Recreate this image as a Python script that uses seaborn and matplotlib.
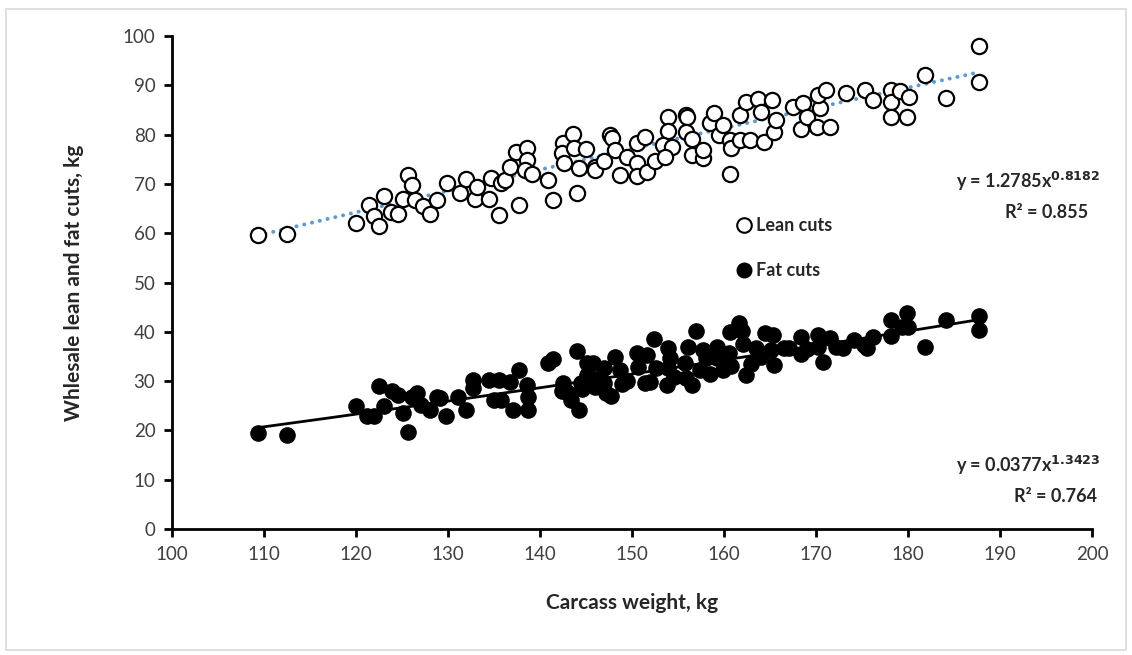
import numpy as np
import pandas as pd
import matplotlib
matplotlib.use("Agg")
import matplotlib.pyplot as plt
from matplotlib.lines import Line2D
from matplotlib.patches import Rectangle
import seaborn as sns

# Carcass weight (kg) and wholesale lean cuts (kg)
lean_x = [109.3, 112.5, 120.0, 121.4, 122.0, 122.5, 123.0, 123.8, 124.6, 125.1,
          125.6, 126.1, 126.4, 127.3, 128.0, 128.8, 129.9, 131.3, 132.0, 132.9,
          133.1, 134.4, 134.7, 135.5, 135.8, 136.2, 136.7, 137.4, 137.7, 138.6,
          138.6, 138.4, 139.1, 140.9, 141.4, 142.5, 142.4, 142.6, 143.6, 143.7,
          144.0, 144.2, 145.0, 146.0, 146.0, 146.9, 147.6, 147.8, 148.2, 148.7,
          149.4, 150.5, 150.5, 150.5, 151.4, 151.6, 152.5, 153.9, 153.9, 153.4,
          154.3, 153.6, 155.9, 156.0, 155.9, 156.5, 156.5, 157.7, 157.7, 158.5,
          158.9, 159.4, 159.9, 160.7, 160.8, 160.7, 161.7, 161.7, 162.4, 162.8,
          163.7, 164.0, 164.3, 165.2, 165.4, 165.7, 167.5, 168.4, 168.6, 169.0,
          170.1, 170.4, 170.2, 171.1, 171.5, 173.3, 175.3, 176.2, 178.2, 178.2,
          178.1, 179.1, 179.9, 180.1, 181.8, 184.1, 187.7, 187.7]
lean_y = [59.6, 59.8, 62.0, 65.7, 63.4, 61.5, 67.5, 64.4, 63.9, 66.9,
          71.8, 69.8, 66.7, 65.5, 63.9, 66.7, 70.1, 68.1, 70.9, 66.9,
          69.4, 67.0, 71.1, 63.7, 70.1, 70.8, 73.5, 76.4, 65.7, 77.2,
          74.8, 72.8, 72.1, 70.8, 66.7, 78.2, 76.2, 74.2, 80.1, 77.2,
          68.1, 73.2, 77.0, 73.5, 72.8, 74.6, 79.9, 79.3, 76.9, 71.8,
          75.5, 78.2, 74.2, 71.6, 79.6, 72.5, 74.6, 83.6, 80.8, 77.9,
          77.5, 75.5, 84.0, 83.5, 80.6, 79.2, 75.9, 75.2, 76.9, 82.3,
          84.3, 79.9, 81.9, 78.9, 77.2, 72.1, 84.0, 78.9, 86.7, 79.0,
          87.3, 84.5, 78.6, 87.0, 80.6, 83.0, 85.7, 81.1, 86.4, 83.6,
          81.6, 85.3, 88.0, 89.0, 81.6, 88.4, 89.0, 87.0, 89.0, 86.7,
          83.6, 88.8, 83.5, 87.7, 92.1, 87.5, 98.0, 90.6]

# Carcass weight (kg) and wholesale fat cuts (kg)
fat_x = [109.3, 112.5, 120.0, 121.2, 122.0, 122.5, 123.0, 123.9, 124.6, 125.1,
         125.6, 126.1, 126.6, 127.1, 128.0, 128.8, 129.8, 129.1, 131.1, 132.0,
         132.7, 132.7, 134.4, 135.0, 135.5, 135.8, 136.7, 137.1, 137.7, 138.6,
         138.7, 138.7, 140.9, 141.4, 142.5, 142.4, 142.9, 143.4, 144.0, 144.2,
         144.5, 144.6, 145.1, 145.1, 145.8, 146.0, 146.1, 146.9, 146.9, 147.2,
         147.7, 148.2, 148.7, 148.9, 149.4, 150.5, 150.7, 151.4, 151.6, 152.4,
         152.6, 152.0, 153.9, 154.1, 153.9, 153.8, 154.6, 156.1, 155.8, 155.9,
         156.5, 157.0, 157.7, 158.0, 157.4, 158.5, 159.2, 159.2, 159.9, 160.5,
         160.7, 160.8, 161.6, 161.9, 162.1, 162.4, 162.9, 163.5, 164.0, 164.5,
         165.3, 165.4, 165.1, 166.5, 167.1, 168.4, 168.4, 169.0, 170.2, 170.2,
         170.8, 171.5, 172.2, 172.9, 174.1, 175.2, 175.5, 176.2, 178.1, 178.2,
         179.3, 179.9, 180.0, 181.8, 184.1, 187.7, 187.7]
fat_y = [19.5, 19.1, 24.9, 22.9, 22.9, 29.1, 24.9, 27.9, 27.2, 23.5,
         19.6, 26.7, 27.5, 25.2, 24.1, 26.8, 22.9, 26.5, 26.8, 24.1,
         30.2, 28.5, 30.2, 26.2, 30.2, 26.2, 29.9, 24.1, 32.3, 29.2,
         26.8, 24.1, 33.7, 34.4, 29.6, 27.9, 27.7, 26.2, 36.2, 24.1,
         29.6, 28.4, 33.6, 31.2, 33.6, 28.9, 30.4, 32.6, 29.6, 27.5,
         27.0, 34.9, 32.3, 29.5, 30.1, 35.6, 32.9, 29.6, 35.3, 38.5,
         32.6, 29.9, 36.7, 34.6, 32.6, 29.2, 30.9, 37.0, 33.6, 30.6,
         29.2, 40.2, 36.3, 34.6, 32.2, 31.5, 37.0, 34.6, 32.2, 35.6,
         40.0, 33.0, 41.7, 40.2, 37.6, 31.2, 33.4, 36.7, 34.9, 39.7,
         39.4, 33.3, 36.3, 36.8, 36.8, 39.0, 35.5, 36.5, 39.4, 37.0,
         33.9, 38.7, 37.0, 36.8, 38.3, 37.3, 36.7, 38.9, 42.4, 39.1,
         41.0, 43.9, 41.0, 37.0, 42.4, 43.2, 40.4]

# Power trend coefficients, y = a * x^b
lean_a, lean_b, lean_r2 = 1.2785, 0.8182, 0.855
fat_a, fat_b, fat_r2 = 0.0377, 1.3423, 0.764

x_ticks = list(range(100, 201, 10))
y_ticks = list(range(0, 101, 10))

sns.set_theme(style="white")
plt.rcParams["font.family"] = ["Lato", "DejaVu Sans"]

fig = plt.figure(figsize=(11.32, 6.55), dpi=100)
fig.patches.append(Rectangle((0.005, 0.007), 0.99, 0.98, transform=fig.transFigure,
                             fill=False, edgecolor="#d9d9d9", linewidth=1.2))
ax = fig.add_axes([0.152, 0.1924, 0.8127, 0.7526])

lean = pd.DataFrame({"w": lean_x, "v": lean_y})
fat = pd.DataFrame({"w": fat_x, "v": fat_y})

# Trend lines from the fitted power equations
xl = np.linspace(min(lean_x), max(lean_x), 200)
xf = np.linspace(min(fat_x), max(fat_x), 200)
sns.lineplot(x=xl, y=lean_a * xl ** lean_b, ax=ax, color="#5B9BD5",
             linestyle=(0, (0.05, 2.0)), linewidth=2.8, dash_capstyle="round",
             solid_capstyle="round", zorder=2)
sns.lineplot(x=xf, y=fat_a * xf ** fat_b, ax=ax, color="black",
             linewidth=2.0, zorder=2)

sns.scatterplot(data=lean, x="w", y="v", ax=ax, s=120, facecolor="white",
                edgecolor="black", linewidth=1.6, zorder=3)
sns.scatterplot(data=fat, x="w", y="v", ax=ax, s=120, color="black",
                edgecolor="black", linewidth=1.0, zorder=3)

ax.set_xlim(100, 200)
ax.set_ylim(0, 100)
ax.set_xticks(x_ticks)
ax.set_yticks(y_ticks)
ax.tick_params(axis="both", direction="out", length=6, width=2, color="black",
               labelsize=13.5, labelcolor="#404040", pad=6, bottom=True, left=True)
for side in ("top", "right"):
    ax.spines[side].set_visible(False)
for side in ("left", "bottom"):
    ax.spines[side].set_color("black")
    ax.spines[side].set_linewidth(2)
ax.grid(False)

ax.set_xlabel("Carcass weight, kg", fontsize=15, fontweight="bold", color="#262626", labelpad=22)
ax.set_ylabel("Whlesale lean and fat cuts, kg", fontsize=15, fontweight="bold", color="#262626", labelpad=28)

handles = [Line2D([], [], marker="o", linestyle="none", markersize=10.5,
                  markerfacecolor="white", markeredgecolor="black", markeredgewidth=1.5),
           Line2D([], [], marker="o", linestyle="none", markersize=10.5,
                  markerfacecolor="black", markeredgecolor="black")]
leg = ax.legend(handles, ["Lean cuts", "Fat cuts"], loc="upper left",
                bbox_to_anchor=(0.592, 0.665), frameon=False, handletextpad=0.1,
                handlelength=1.2, labelspacing=1.55, prop={"weight": "bold", "size": 13})
for t in leg.get_texts():
    t.set_color("#262626")

eq_style = dict(fontsize=13, fontweight="bold", color="#262626", ha="right", va="center")
ax.text(1.009, 0.704, f"y = {lean_a}x$^{{\\mathbf{{{lean_b}}}}}$", transform=ax.transAxes, **eq_style)
ax.text(0.9957, 0.643, f"R² = {lean_r2}", transform=ax.transAxes, **eq_style)
ax.text(1.009, 0.128, f"y = {fat_a}x$^{{\\mathbf{{{fat_b}}}}}$", transform=ax.transAxes, **eq_style)
ax.text(1.005, 0.065, f"R² = {fat_r2}", transform=ax.transAxes, **eq_style)

fig.savefig("out.png", dpi=100)
